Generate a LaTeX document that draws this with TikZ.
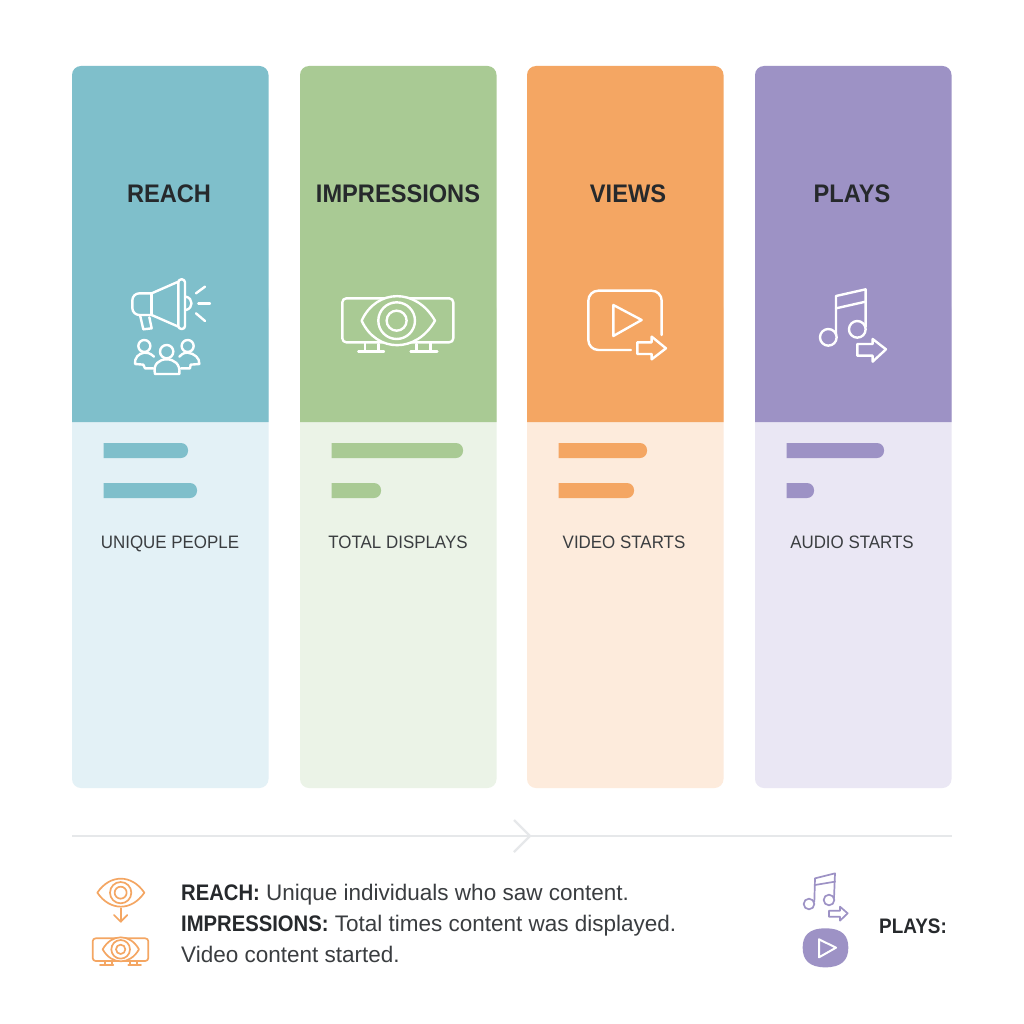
\documentclass[tikz,border=0pt]{standalone}
\usepackage{fontspec}
\setmainfont{Liberation Sans}
\newfontfamily\headfont[FakeStretch=0.93]{Liberation Sans}
\newfontfamily\subfont[FakeStretch=0.94]{Liberation Sans}
\newfontfamily\notefont[FakeStretch=0.9]{Liberation Sans}
\usetikzlibrary{positioning,arrows.meta}

\definecolor{reachdark}{HTML}{7FBFCB}
\definecolor{reachlight}{HTML}{E3F1F6}
\definecolor{impdark}{HTML}{A9CA94}
\definecolor{implight}{HTML}{EBF3E7}
\definecolor{viewsdark}{HTML}{F4A663}
\definecolor{viewslight}{HTML}{FDEBDC}
\definecolor{playsdark}{HTML}{9D92C5}
\definecolor{playslight}{HTML}{EAE7F4}
\definecolor{inkdark}{HTML}{26292C}
\definecolor{inksoft}{HTML}{3A3D40}
\definecolor{rulegrey}{HTML}{E6E8EA}

\newcommand{\noteword}[1]{{\color{inkdark}\notefont\bfseries #1}}

\tikzset{
  head text/.style={text=inkdark,font=\headfont\fontsize{25.4}{25.4}\selectfont\bfseries},
  sub text/.style={text=inksoft,text height=13pt,text depth=0pt,font=\subfont\fontsize{18}{18}\selectfont},
  note text/.style={text=inksoft,anchor=west,inner sep=0pt,text height=16pt,text depth=4pt,font=\fontsize{22.5}{22.5}\selectfont},
  icon line/.style={draw=white,line width=2.4pt,line join=round,line cap=round},
  note icon/.style={line width=1.7pt,line join=round,line cap=round},
}

\begin{document}
\begin{tikzpicture}[x=1pt,y=-1pt]
\useasboundingbox (0,0) rectangle (1024,1024);
\fill[white] (0,0) rectangle (1024,1024);

% the four columns
\foreach \x/\key/\title/\tx/\sub/\sx/\a/\b in {
  72/reach/REACH/169/UNIQUE PEOPLE/170/188/197,
  300/imp/IMPRESSIONS/398/TOTAL DISPLAYS/398/463/381,
  527/views/VIEWS/628/VIDEO STARTS/624/647/634,
  755/plays/PLAYS/852/AUDIO STARTS/852/884/814}
{
  \fill[\key light,rounded corners=9pt] (\x,300) rectangle ++(196.5,488);
  \fill[\key dark] (\x,422) [rounded corners=9pt] -- ++(0,-356) -- ++(196.5,0) [sharp corners] -- ++(0,356) -- cycle;
  \node[head text] (\key title) at (\tx,194) {\title};
  \node[sub text] (\key sub) at (\sx,542) {\sub};
  % the two bars
  \fill[\key dark] (\x+31.5,443) [rounded corners=7pt] -- (\a,443) -- (\a,458) [sharp corners] -- (\x+31.5,458) -- cycle;
  \fill[\key dark] (\x+31.5,483) [rounded corners=7pt] -- (\b,483) -- (\b,498) [sharp corners] -- (\x+31.5,498) -- cycle;
}

% megaphone and people
\begin{scope}[shift={(100,260)},scale=0.3333,icon line]
\draw[rounded corners=7pt] (155,100) -- (97,100) -- (97,165) -- (155,165);
\draw (155,100) -- (155,165);
\draw (155,100) -- (235,65);
\draw (155,165) -- (235,200);
\draw[rounded corners=3pt] (235,58) rectangle (255,207);
\draw (258,110) .. controls (280,115) and (280,145) .. (258,150);
\draw (120,165) -- (130,208) -- (155,205) -- (148,172);
\draw (288,100) -- (315,80);
\draw (295,130) -- (330,130);
\draw (288,160) -- (315,183);
\draw (200,275) circle (20);
\draw (165,342) .. controls (158,312) and (178,298) .. (200,298) .. controls (222,298) and (242,312) .. (238,342) -- cycle;
\draw (133,258) circle (18);
\draw (263,258) circle (18);
\draw (162,290) .. controls (150,278) and (140,278) .. (133,278) .. controls (115,280) and (103,295) .. (105,312) -- (130,314) -- (135,325) -- (160,325);
\draw (238,290) .. controls (250,278) and (256,278) .. (263,278) .. controls (283,280) and (300,295) .. (298,312) -- (272,314) -- (270,325) -- (243,325);
\end{scope}

% projector with an eye
\begin{scope}[shift={(100,260)},scale=0.3333,icon line]
\draw[rounded corners=4pt] (727,115) rectangle (1060,247);
\draw[fill=impdark] (785,182) .. controls (830,84) and (950,84) .. (1005,182) .. controls (950,280) and (830,280) .. (785,182) -- cycle;
\draw (890,182) circle (55);
\draw (890,182) circle (30);
\draw (795,247) -- (795,275);
\draw (835,252) -- (835,275);
\draw (775,275) -- (852,275);
\draw (950,252) -- (950,275);
\draw (992,247) -- (992,275);
\draw (932,275) -- (1012,275);
\end{scope}

% video with arrow
\begin{scope}[shift={(560,260)},scale=0.3333,icon line]
\draw[rounded corners=10pt] (213,270) -- (85,270) -- (85,92) -- (305,92) -- (305,225);
\draw (160,135) -- (245,180) -- (160,228) -- cycle;
\draw (232,247) -- (275,247) -- (275,230) -- (318,265) -- (275,298) -- (275,282) -- (232,282) -- cycle;
\end{scope}

% notes with arrow
\begin{scope}[shift={(560,260)},scale=0.3333,icon line]
\draw (805,232) circle (25);
\draw (892,208) circle (25);
\draw (828,225) -- (828,108) -- (917,88) -- (917,200);
\draw (828,145) -- (917,125);
\draw (892,252) -- (938,252) -- (938,237) -- (978,268) -- (938,305) -- (938,287) -- (892,287) -- cycle;
\end{scope}

% timeline
\coordinate (linestart) at (72,836);
\coordinate (lineend) at (952,836);
\coordinate (tipup) at (514,820);
\coordinate (tip) at (530,836);
\coordinate (tipdown) at (514,852);
\draw[rulegrey,line width=2.2pt] (linestart) -- (lineend);
\draw[rulegrey,line width=2.2pt] (tipup) -- (tip) -- (tipdown);

% legend text
\node[note text] (noteone) at (181,894) {\noteword{REACH:} Unique individuals who saw content.};
\node[note text] (notetwo) at (181,925) {\noteword{IMPRESSIONS:} Total times content was displayed.};
\node[note text] (notethree) at (181,956) {Video content started.};
\node[note text,font=\fontsize{21}{21}\selectfont] (noteplays) at (879,927) {\noteword{PLAYS:}};

% legend icons
\begin{scope}[shift={(60,810)},scale=0.3333,note icon,draw=viewsdark]
\draw (112,248) .. controls (150,192) and (215,192) .. (253,248) .. controls (215,304) and (150,304) .. (112,248) -- cycle;
\draw (182,248) circle (32);
\draw (182,248) circle (18);
\draw (182,295) -- (182,335);
\draw (162,315) -- (182,335) -- (202,315);
\draw[rounded corners=3pt] (98,385) rectangle (265,453);
\draw[fill=white] (128,418) .. controls (155,370) and (210,370) .. (237,418) .. controls (210,466) and (155,466) .. (128,418) -- cycle;
\draw (182,418) circle (28);
\draw (182,418) circle (14);
\draw (135,453) -- (135,465);
\draw (155,453) -- (155,465);
\draw (120,465) -- (160,465);
\draw (210,453) -- (210,465);
\draw (230,453) -- (230,465);
\draw (205,465) -- (243,465);
\end{scope}

\begin{scope}[shift={(760,850)},scale=0.3333,note icon,draw=playsdark]
\draw (147,162) circle (16);
\draw (207,150) circle (16);
\draw (163,155) -- (165,85) -- (225,70) -- (222,145);
\draw (165,105) -- (225,95);
\draw (207,182) -- (240,182) -- (240,170) -- (263,190) -- (240,212) -- (240,200) -- (207,200) -- cycle;
\fill[playsdark] (196,235) .. controls (250,235) and (265,260) .. (265,293) .. controls (265,330) and (245,352) .. (196,352) .. controls (148,352) and (128,330) .. (128,293) .. controls (128,260) and (143,235) .. (196,235) -- cycle;
\draw[white,line width=2pt] (177,268) -- (228,293) -- (177,322) -- cycle;
\end{scope}
\end{tikzpicture}
\end{document}
